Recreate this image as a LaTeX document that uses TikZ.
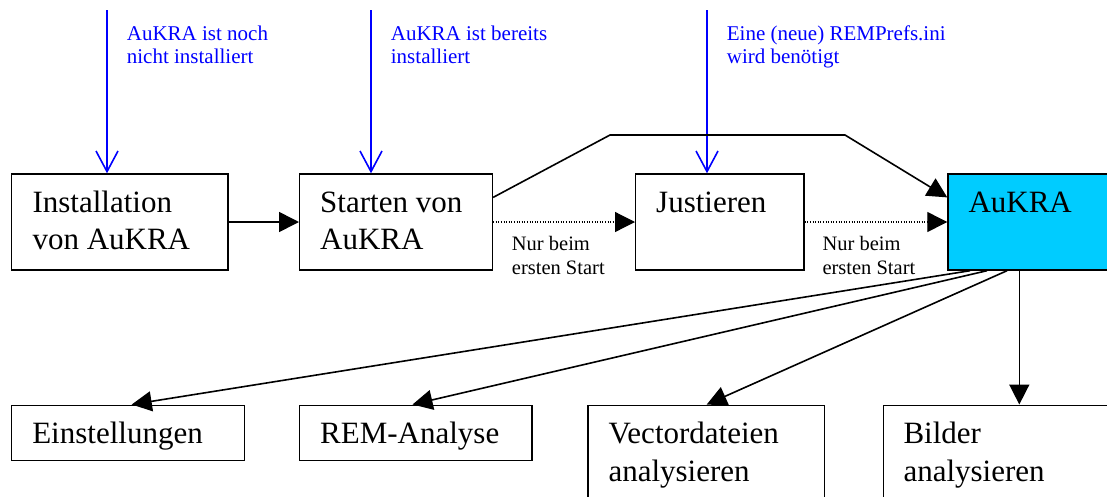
\documentclass[tikz,border=0pt]{standalone}
\usepackage{fontspec}
\setmainfont{Liberation Serif}
\usetikzlibrary{arrows.meta}
\definecolor{aukcyan}{RGB}{0,204,255}
\definecolor{linkblue}{RGB}{0,0,255}
\newcommand{\mytwo}[3]{\vtop{\baselineskip=#1\hbox{#2}\hbox{#3}}}
\begin{document}
\begin{tikzpicture}[x=1pt,y=-1pt,
  box/.style={draw=black, line width=1.4pt, inner sep=0pt, anchor=north west, rectangle},
  boxtext/.style={anchor=base west, inner sep=0pt, font=\fontsize{31}{37.5}\selectfont},
  note/.style={anchor=base west, inner sep=0pt, font=\fontsize{21}{23.3}\selectfont, text=linkblue},
  small/.style={anchor=base west, inner sep=0pt, font=\fontsize{20.5}{24}\selectfont},
  arr/.style={line width=1.6pt, -{Triangle[length=20pt,width=20pt]}},
  dotarr/.style={arr, line width=1.2pt, dash pattern=on 1pt off 1.6pt},
  bluearr/.style={draw=linkblue, line width=1.7pt, -{Straight Barb[length=20.6pt,width=22pt,line width=1.6pt]}}
]
\useasboundingbox (0,0) rectangle (1107,496);

% top row boxes
\node[box, minimum width=216.3pt, minimum height=96pt] (b1) at (11,173.3) {};
\node[box, minimum width=192.7pt, minimum height=96pt] (b2) at (299,173.3) {};
\node[box, minimum width=168.3pt, minimum height=96pt] (b3) at (635,173.3) {};
\node[box, fill=aukcyan, minimum width=175pt, minimum height=96pt] (b4) at (947.3,173.3) {};

% bottom row boxes
\node[box, minimum width=232.9pt, minimum height=55pt] (e1) at (10.7,404.5) {};
\node[box, minimum width=232.4pt, minimum height=55pt] (e2) at (299,404.5) {};
\node[box, minimum width=236.7pt, minimum height=120pt] (e3) at (587.3,404.5) {};
\node[box, minimum width=240pt, minimum height=120pt] (e4) at (882.7,404.5) {};

% box texts
\node[boxtext] (t1) at ([shift={(21.3pt,-39pt)}]b1.north west) {\mytwo{37.5pt}{Installation}{von AuKRA}};
\node[boxtext] (t2) at ([shift={(21pt,-39pt)}]b2.north west) {\mytwo{37.5pt}{Starten von}{AuKRA}};
\node[boxtext] (t3) at ([shift={(21pt,-39pt)}]b3.north west) {Justieren};
\node[boxtext] (t4) at ([shift={(21pt,-39pt)}]b4.north west) {AuKRA};
\node[boxtext] (u1) at ([shift={(21.4pt,-39pt)}]e1.north west) {Einstellungen};
\node[boxtext] (u2) at ([shift={(21pt,-39pt)}]e2.north west) {REM-Analyse};
\node[boxtext] (u3) at ([shift={(21pt,-39pt)}]e3.north west) {\mytwo{37.5pt}{Vectordateien}{analysieren}};
\node[boxtext] (u4) at ([shift={(20.6pt,-39pt)}]e4.north west) {\mytwo{37.5pt}{Bilder}{analysieren}};

% blue notes and arrows
\coordinate (s1) at (107,10);
\coordinate (s2) at (371,10);
\coordinate (s3) at (707,10);
\draw[bluearr] (s1) -- (s1 |- b1.north);
\draw[bluearr] (s2) -- (s2 |- b2.north);
\draw[bluearr] (s3) -- (s3 |- b3.north);
\node[note] (n1) at (126.7,40) {\mytwo{23.3pt}{AuKRA ist noch}{nicht installiert}};
\node[note] (n2) at (390.7,40) {\mytwo{23.3pt}{AuKRA ist bereits}{installiert}};
\node[note] (n3) at (726.7,40) {\mytwo{23.3pt}{Eine (neue) REMPrefs.ini}{wird benötigt}};

% top row connectors
\draw[arr] (b1.east) -- (b2.west);
\draw[dotarr] (b2.east) -- (b3.west);
\draw[dotarr] (b3.east) -- (b4.west);
\coordinate (bendA) at (610,135);
\coordinate (bendB) at (845,135);
\draw[arr, line join=miter] ([yshift=24.6pt]b2.east) -- (bendA) -- (bendB) -- ([yshift=24.6pt]b4.west);

\node[small] (m1) at (511.7,250) {\mytwo{24pt}{Nur beim}{ersten Start}};
\node[small] (m2) at (822.3,250) {\mytwo{24pt}{Nur beim}{ersten Start}};

% bottom connectors
\draw[arr] ([xshift=22.7pt]b4.south west) -- ([xshift=121pt]e1.north west);
\draw[arr] ([xshift=39.7pt]b4.south west) -- ([xshift=113.5pt]e2.north west);
\draw[arr] ([xshift=59.7pt]b4.south west) -- ([xshift=119.4pt]e3.north west);
\draw[arr] ([xshift=72pt]b4.south west) -- ([xshift=72pt]b4.south west |- e4.north);
\end{tikzpicture}
\end{document}
